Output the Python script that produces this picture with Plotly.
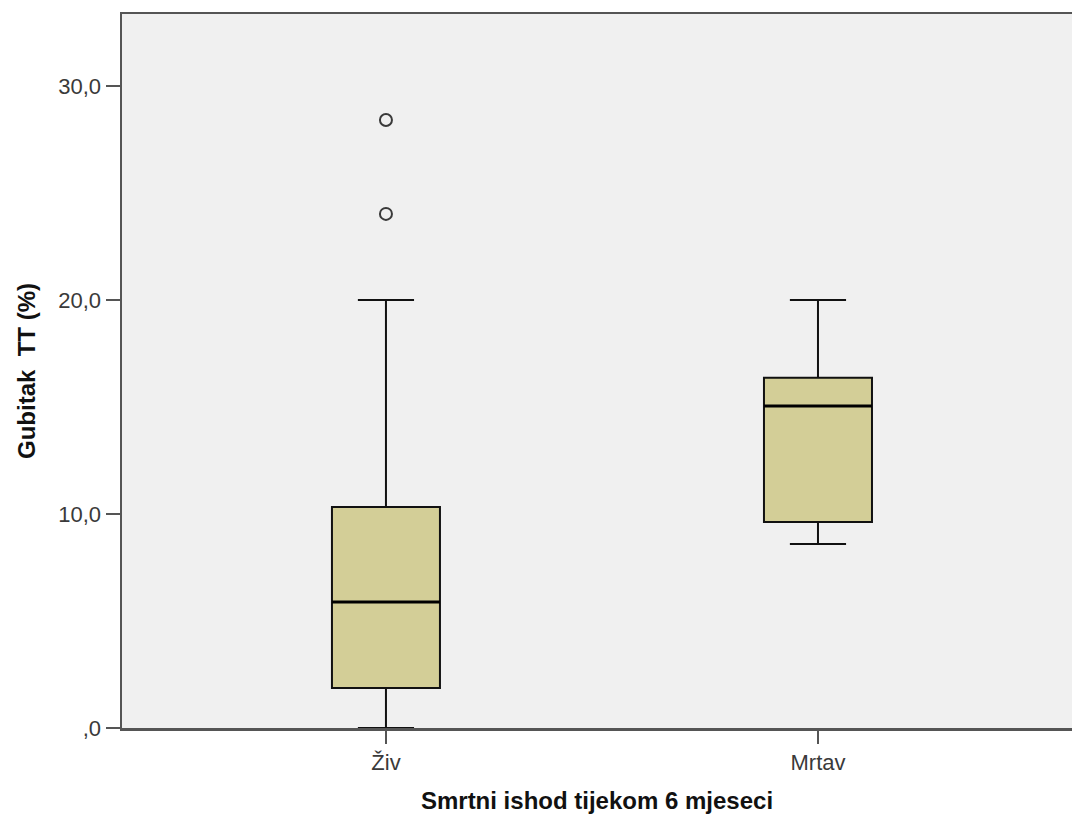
import plotly.graph_objects as go

categories = ["Živ", "Mrtav"]
q1 = [1.87, 9.63]
median = [5.89, 15.05]
q3 = [10.33, 16.36]
lower_whisker = [0.0, 8.6]
upper_whisker = [20.0, 20.0]
outlier_cat = [0, 0]
outlier_vals = [28.41, 24.02]

y_tickvals = [0, 10, 20, 30]
y_ticktext = [",0", "10,0", "20,0", "30,0"]

box_width = 0.25
fill = "#D3CE97"

fig = go.Figure()
for i, c in enumerate(categories):
    fig.add_trace(go.Box(
        x=[i], q1=[q1[i]], median=[median[i]], q3=[q3[i]],
        lowerfence=[lower_whisker[i]], upperfence=[upper_whisker[i]],
        width=box_width, whiskerwidth=0.52,
        fillcolor=fill, line=dict(color="#111111", width=2),
        boxpoints=False, showlegend=False, name=c, hoverinfo="skip",
    ))
    # thicker median line
    fig.add_trace(go.Scatter(
        x=[i - box_width / 2, i + box_width / 2], y=[median[i], median[i]],
        mode="lines", line=dict(color="#000000", width=3),
        showlegend=False, hoverinfo="skip",
    ))

fig.add_trace(go.Scatter(
    x=outlier_cat, y=outlier_vals, mode="markers",
    marker=dict(symbol="circle-open", size=12, color="#3a3a3a", line=dict(width=2)),
    showlegend=False, hoverinfo="skip",
))

fig.update_layout(
    width=1072, height=817,
    margin=dict(l=122, r=0, t=14, b=89),
    paper_bgcolor="white", plot_bgcolor="#F0F0F0",
    font=dict(family="Liberation Sans, Arial, sans-serif", color="#333333"),
)
fig.update_xaxes(
    range=[-0.611, 1.588], tickvals=[0, 1], ticktext=categories,
    showgrid=False, zeroline=False,
    showline=True, mirror=True, linecolor="#555555", linewidth=2.5,
    ticks="outside", ticklen=13, tickcolor="#555555", tickwidth=1.5,
    tickfont=dict(size=22, color="#3a3a3a"),
    title=dict(text="<b>Smrtni ishod tijekom 6 mjeseci</b>", font=dict(size=24, color="#111111"), standoff=19),
)
fig.update_yaxes(
    range=[0, 33.36], tickvals=y_tickvals, ticktext=y_ticktext,
    showgrid=False, zeroline=False,
    showline=True, linecolor="#555555", linewidth=2.5,
    ticks="outside", ticklen=14, tickcolor="#555555", tickwidth=1.5,
    tickfont=dict(size=22, color="#3a3a3a"),
    title=dict(text="<b>Gubitak  TT (%)</b>", font=dict(size=24, color="#111111"), standoff=16),
)

fig.write_html(
    "out.html",
    config={"displayModeBar": False, "staticPlot": True},
    post_script="document.body.style.margin='0';document.body.style.overflow='hidden';",
)
